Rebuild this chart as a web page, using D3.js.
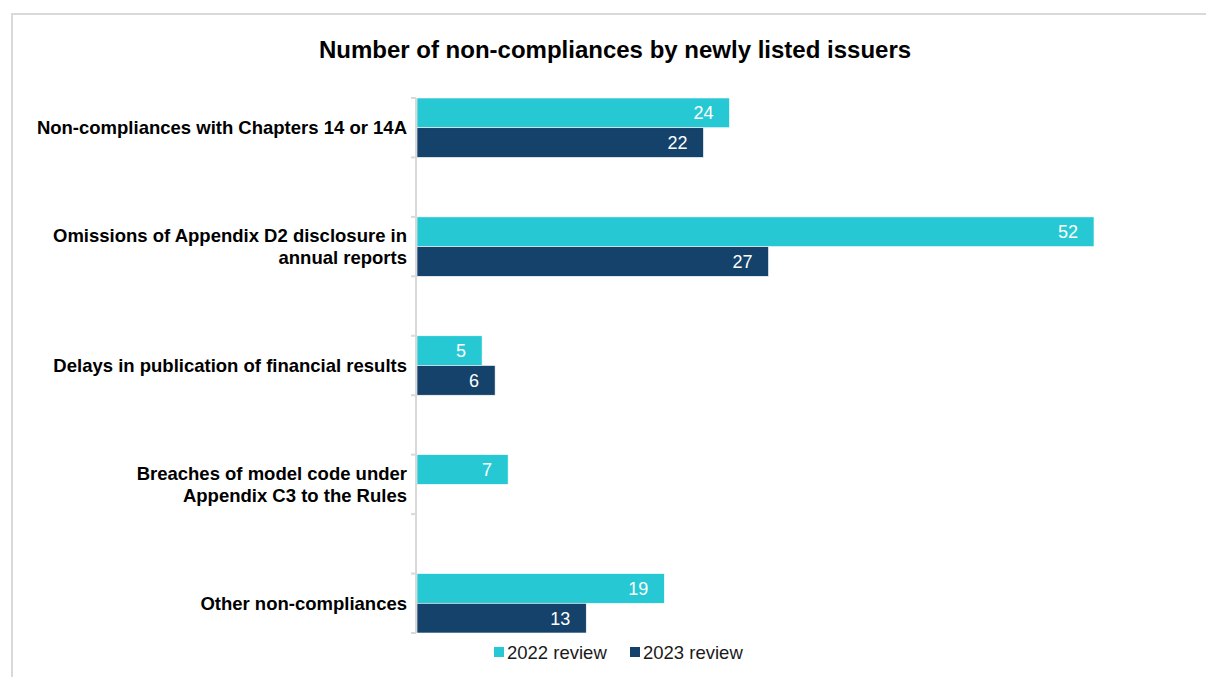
<!DOCTYPE html>
<html>
<head>
<meta charset="utf-8">
<script src="https://cdn.jsdelivr.net/npm/d3@7"></script>
<style>
  html, body { margin: 0; padding: 0; background: #ffffff; }
  svg { display: block; font-family: "Liberation Sans", Arial, sans-serif; }
</style>
</head>
<body>
<svg id="chart" width="1206" height="677"></svg>
<script>
// Categories (label lines) and review counts
const categories = [
  "Non-compliances with Chapters 14 or 14A",
  "Omissions of Appendix D2 disclosure in|annual reports",
  "Delays in publication of financial results",
  "Breaches of model code under|Appendix C3 to the Rules",
  "Other non-compliances"
];
const seriesNames = ["2022 review", "2023 review"];
const review2022 = [24, 52, 5, 7, 19];
const review2023 = [22, 27, 6, null, 13];
const seriesColors = ["#26C9D3", "#15426B"];

const svg = d3.select("#chart");
const W = 1206, H = 677;

// Frame
svg.append("rect")
  .attr("x", 12).attr("y", 14)
  .attr("width", W + 10).attr("height", H + 10)
  .attr("fill", "#ffffff")
  .attr("stroke", "#d9d9d9").attr("stroke-width", 2);

// Title
svg.append("text")
  .attr("x", 615).attr("y", 58)
  .attr("text-anchor", "middle")
  .attr("font-size", 24).attr("font-weight", "bold")
  .attr("fill", "#000000")
  .text("Number of non-compliances by newly listed issuers");

const x0 = 417;
const x = d3.scaleLinear().domain([0, 52]).range([x0, 1094]);

const y = d3.scaleBand()
  .domain(categories)
  .range([98, 633])
  .paddingInner(0.5)
  .paddingOuter(0);

const inner = d3.scaleBand()
  .domain(seriesNames)
  .range([0, y.bandwidth()])
  .padding(0);

const rows = categories.map((c, i) => ({
  cat: c,
  values: [review2022[i], review2023[i]]
}));

// Bars
const groups = svg.append("g").selectAll("g")
  .data(rows).join("g")
  .attr("transform", d => `translate(0,${y(d.cat)})`);

groups.selectAll("rect")
  .data(d => d.values.map((v, j) => ({ v, s: seriesNames[j], j })).filter(e => e.v != null))
  .join("rect")
  .attr("x", x(0))
  .attr("y", e => inner(e.s))
  .attr("width", e => x(e.v) - x(0))
  .attr("height", inner.bandwidth())
  .attr("fill", e => seriesColors[e.j])
  .attr("stroke", "#ffffff").attr("stroke-width", 0.6);

// Value labels inside the bar end
groups.selectAll("text")
  .data(d => d.values.map((v, j) => ({ v, s: seriesNames[j], j })).filter(e => e.v != null))
  .join("text")
  .attr("x", e => x(e.v) - 16)
  .attr("y", e => inner(e.s) + inner.bandwidth() / 2)
  .attr("dy", "0.36em")
  .attr("text-anchor", "end")
  .attr("font-size", 18)
  .attr("fill", "#ffffff")
  .text(e => e.v);

// Category axis line and tick marks at band edges
const axisG = svg.append("g");
axisG.append("line")
  .attr("x1", x0 - 1).attr("x2", x0 - 1)
  .attr("y1", y.range()[0]).attr("y2", y.range()[1])
  .attr("stroke", "#d9d9d9").attr("stroke-width", 2);

const tickYs = [];
categories.forEach(c => { tickYs.push(y(c)); tickYs.push(y(c) + y.bandwidth()); });
axisG.selectAll("line.tick")
  .data(tickYs).join("line")
  .attr("class", "tick")
  .attr("x1", x0 - 6).attr("x2", x0 - 1)
  .attr("y1", d => d).attr("y2", d => d)
  .attr("stroke", "#d9d9d9").attr("stroke-width", 2);

// Category labels
const lineH = 22;
svg.append("g").selectAll("text")
  .data(categories).join("text")
  .attr("text-anchor", "end")
  .attr("font-size", 18.5).attr("font-weight", "bold")
  .attr("fill", "#000000")
  .each(function (c) {
    const lines = c.split("|");
    const cy = y(c) + y.bandwidth() / 2;
    const t = d3.select(this);
    lines.forEach((ln, k) => {
      t.append("tspan")
        .attr("x", 407)
        .attr("y", cy + (k - (lines.length - 1) / 2) * lineH)
        .attr("dy", "0.36em")
        .text(ln);
    });
  });

// Legend
const legend = svg.append("g");
const legendX = [494, 630];
seriesNames.forEach((name, j) => {
  legend.append("rect")
    .attr("x", legendX[j]).attr("y", 647)
    .attr("width", 10).attr("height", 10)
    .attr("fill", seriesColors[j]);
  legend.append("text")
    .attr("x", legendX[j] + 13).attr("y", 652)
    .attr("dy", "0.36em")
    .attr("font-size", 18.5)
    .attr("fill", "#1a1a1a")
    .text(name);
});
</script>
</body>
</html>
